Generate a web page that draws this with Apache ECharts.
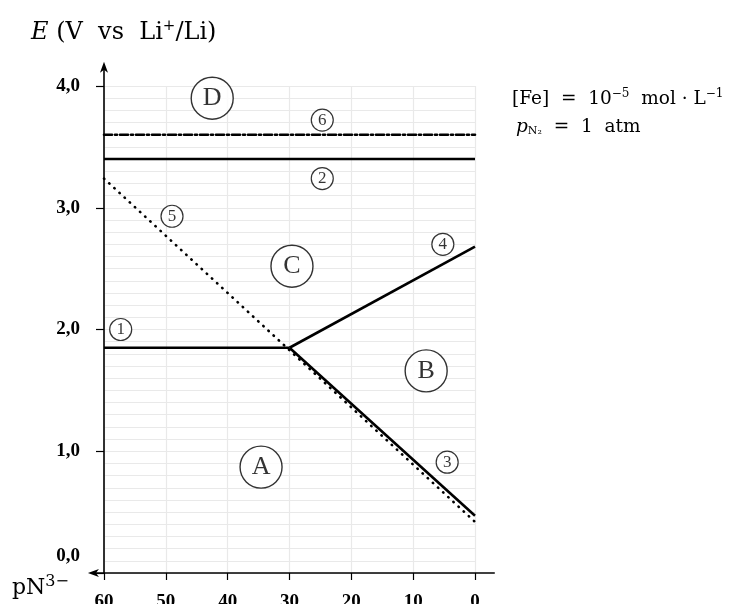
<!DOCTYPE html>
<html>
<head>
<meta charset="utf-8">
<script src="https://cdn.jsdelivr.net/npm/echarts@6/dist/echarts.min.js"></script>
<style>
  html, body { margin: 0; padding: 0; background: #fff; }
  #chart { width: 736px; height: 604px; }
</style>
</head>
<body>
<div id="chart"></div>
<script>
// boundaries of the domains (pN3-, E)
const line1 = [[60, 1.85], [30, 1.85]];
const line2 = [[60, 3.4], [0, 3.4]];
const line3 = [[30, 1.85], [0, 0.47]];
const line4 = [[30, 1.85], [0, 2.68]];
const line5 = [[60, 3.24], [0, 0.42]];
const line6 = [[60, 3.6], [0, 3.6]];

// domain letters and line numbers
const zoneLabels = [['A', 34.6, 0.87], ['B', 7.9, 1.66], ['C', 29.6, 2.52], ['D', 42.5, 3.9]];
const lineLabels = [['1', 57.3, 2.0], ['2', 24.7, 3.24], ['3', 4.5, 0.91], ['4', 5.2, 2.7], ['5', 49.0, 2.93], ['6', 24.7, 3.72]];

const font = 'Liberation Serif';
const font2 = 'DejaVu Serif';

const chart = echarts.init(document.getElementById('chart'));

function seg(data, type) {
  return {
    type: 'line',
    data: data,
    symbol: 'none',
    silent: true,
    lineStyle: { color: '#000', width: 2.6, type: type || 'solid', cap: type ? 'round' : 'butt' }
  };
}

chart.setOption({
  animation: false,
  grid: { left: 104, right: 261, top: 86, bottom: 31, outerBoundsMode: 'none', containLabel: false },
  xAxis: {
    type: 'value',
    inverse: true,
    min: 0,
    max: 60,
    interval: 10,
    axisLine: { show: false, onZero: false },
    axisTick: { show: true, inside: false, length: 7, lineStyle: { color: '#000', width: 1.2 } },
    axisLabel: { color: '#000', fontFamily: font, fontSize: 19, fontWeight: 'bold', margin: 20 },
    splitLine: { show: true, lineStyle: { color: '#e9e9e9', width: 1.2 } }
  },
  yAxis: {
    type: 'value',
    position: 'left',
    min: 0,
    max: 4,
    interval: 1,
    axisLine: { show: false, onZero: false },
    axisTick: { show: true, length: 8, lineStyle: { color: '#000', width: 1.2 } },
    axisLabel: {
      color: '#000', fontFamily: font, fontSize: 19, fontWeight: 'bold', margin: 24,
      formatter: v => {
        const s = v.toFixed(1).replace('.', ',');
        return v === 0 ? '{z|' + s + '}' : s;
      },
      rich: {
        z: { fontFamily: font, fontSize: 19, fontWeight: 'bold', color: '#000', padding: [0, 0, 34, 0] }
      }
    },
    splitLine: { show: true, lineStyle: { color: '#e9e9e9', width: 1.2 } },
    minorTick: { show: false, splitNumber: 10 },
    minorSplitLine: { show: true, lineStyle: { color: '#e9e9e9', width: 1.2 } }
  },
  series: [
    seg(line1),
    seg(line2),
    seg(line3),
    seg(line4),
    seg(line5, [0.5, 6.5]),
    seg(line6, [8, 3, 2, 3]),
    {
      type: 'scatter',
      silent: true,
      symbol: 'circle',
      symbolSize: 42,
      data: zoneLabels.map(d => [d[1], d[2], d[0]]),
      itemStyle: { color: '#fff', borderColor: '#000', borderWidth: 1.4 },
      label: { show: true, position: 'inside', formatter: p => p.data[2], color: '#000', fontFamily: font, fontSize: 26 },
      z: 5
    },
    {
      type: 'scatter',
      silent: true,
      symbol: 'circle',
      symbolSize: 22,
      data: lineLabels.map(d => [d[1], d[2], d[0]]),
      itemStyle: { color: '#fff', borderColor: '#000', borderWidth: 1.2 },
      label: { show: true, position: 'inside', formatter: p => p.data[2], color: '#000', fontFamily: font, fontSize: 17 },
      z: 5
    }
  ]
});

// axes drawn by hand so they can run past the plot with arrows
const o = chart.convertToPixel({ gridIndex: 0 }, [60, 0]);
const yTop = chart.convertToPixel({ gridIndex: 0 }, [60, 4.2]);
const xLeft = chart.convertToPixel({ gridIndex: 0 }, [62.6, 0]);
const xRight = chart.convertToPixel({ gridIndex: 0 }, [-3.2, 0]);

chart.setOption({
  graphic: [
    { type: 'line', shape: { x1: o[0], y1: o[1], x2: yTop[0], y2: yTop[1] + 4 }, style: { stroke: '#000', lineWidth: 1.6 }, z: 10 },
    { type: 'polygon', shape: { points: [[yTop[0], yTop[1]], [yTop[0] - 4, yTop[1] + 11], [yTop[0], yTop[1] + 8], [yTop[0] + 4, yTop[1] + 11]] }, style: { fill: '#000' }, z: 10 },
    { type: 'line', shape: { x1: xLeft[0] + 4, y1: o[1], x2: xRight[0], y2: xRight[1] }, style: { stroke: '#000', lineWidth: 1.6 }, z: 10 },
    { type: 'polygon', shape: { points: [[xLeft[0], o[1]], [xLeft[0] + 11, o[1] - 4], [xLeft[0] + 8, o[1]], [xLeft[0] + 11, o[1] + 4]] }, style: { fill: '#000' }, z: 10 },
    {
      type: 'text', left: 31, top: 19,
      style: {
        text: '{i|E} (V  vs  Li{s|+}/Li)',
        fontFamily: font2, fontSize: 24, fill: '#000',
        rich: {
          i: { fontFamily: font2, fontSize: 24, fontStyle: 'italic' },
          s: { fontFamily: font2, fontSize: 15, padding: [0, 0, 12, 0] }
        }
      }
    },
    {
      type: 'text', left: 12, top: 574,
      style: {
        text: 'pN{s|3−}',
        fontFamily: font2, fontSize: 22, fill: '#000',
        rich: { s: { fontFamily: font2, fontSize: 16, padding: [0, 0, 12, 0] } }
      }
    },
    {
      type: 'text', left: 512, top: 88,
      style: {
        text: '[Fe]  =  10{s|−5}  mol · L{s|−1}',
        fontFamily: font2, fontSize: 18.5, fill: '#000',
        rich: { s: { fontFamily: font2, fontSize: 12, padding: [0, 0, 10, 0] } }
      }
    },
    {
      type: 'text', left: 516, top: 118,
      style: {
        text: '{i|p}{b|N₂}  =  1  atm',
        fontFamily: font2, fontSize: 18.5, fill: '#000',
        rich: {
          i: { fontFamily: font2, fontSize: 18.5, fontStyle: 'italic' },
          b: { fontFamily: font2, fontSize: 11, padding: [8, 0, 0, 0] }
        }
      }
    }
  ]
});
</script>
</body>
</html>
